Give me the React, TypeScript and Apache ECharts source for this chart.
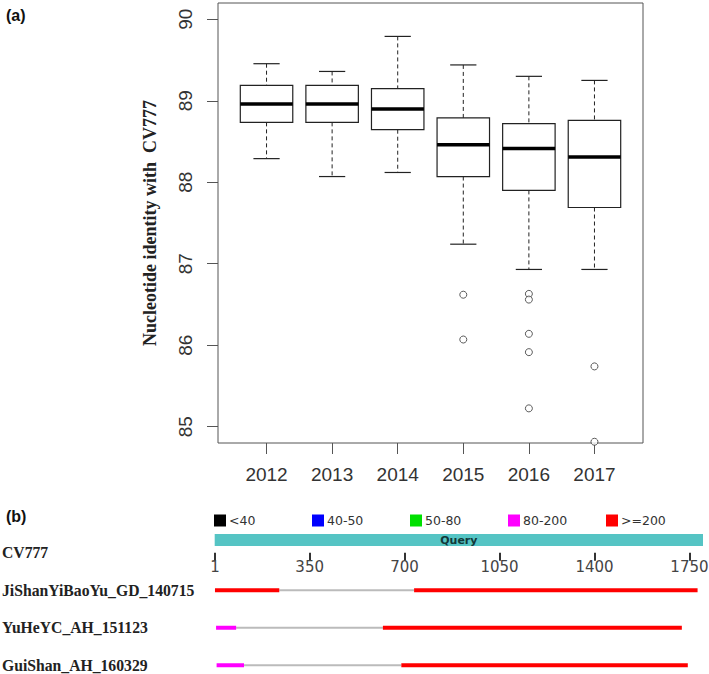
import React, { useEffect, useRef } from "react";
import * as echarts from "echarts";

// ---------- Panel (a): box plot data ----------
const YEARS = ["2012", "2013", "2014", "2015", "2016", "2017"];
const WHISKER_LOW = [88.29, 88.07, 88.12, 87.24, 86.93, 86.93];
const Q1 = [88.735, 88.735, 88.645, 88.07, 87.9, 87.69];
const MEDIAN = [88.96, 88.96, 88.9, 88.46, 88.415, 88.31];
const Q3 = [89.19, 89.19, 89.15, 88.79, 88.72, 88.76];
const WHISKER_HIGH = [89.455, 89.36, 89.79, 89.44, 89.3, 89.25];
const OUTLIER_YEAR = ["2015", "2015", "2016", "2016", "2016", "2016", "2016", "2017", "2017"];
const OUTLIER_VALUE = [86.62, 86.07, 86.63, 86.56, 86.14, 85.915, 85.225, 85.74, 84.815];
const Y_TICKS = [85, 86, 87, 88, 89, 90];

// ---------- Panel (b): alignment data ----------
const ROW_NAMES = ["CV777", "JiShanYiBaoYu_GD_140715", "YuHeYC_AH_151123", "GuiShan_AH_160329"];
const QUERY_LENGTH = 1800;
const RULER_TICKS = [1, 350, 700, 1050, 1400, 1750];
const SCORE_CLASSES = ["<40", "40-50", "50-80", "80-200", ">=200"];
const SCORE_COLORS = ["#000000", "#0000ff", "#00e000", "#ff00ff", "#ff0000"];
const SEG_ROW = [1, 1, 1, 2, 2, 2, 3, 3, 3];
const SEG_START = [1, 238, 735, 5, 79, 620, 7, 108, 688];
const SEG_END = [238, 735, 1780, 79, 620, 1722, 108, 688, 1744];
const SEG_CLASS = [">=200", "gap", ">=200", "80-200", "gap", ">=200", "80-200", "gap", ">=200"];

export default function App() {
  const ref = useRef<HTMLDivElement>(null);

  useEffect(() => {
    if (!ref.current) return;
    const chart = echarts.init(ref.current, null, { renderer: "svg" });

    const boxData = YEARS.map((_, i) => [i + 1, WHISKER_LOW[i], Q1[i], MEDIAN[i], Q3[i], WHISKER_HIGH[i]]);
    const outlierData = OUTLIER_YEAR.map((y, i) => [YEARS.indexOf(y) + 1, OUTLIER_VALUE[i]]);

    const segSeries = (cls: string, color: string, width: number, name?: string) => ({
      type: "custom",
      name: name,
      xAxisIndex: 1,
      yAxisIndex: 1,
      itemStyle: { color },
      encode: { x: [0, 1], y: 2 },
      data: SEG_CLASS.map((c, i) => (c === cls ? [SEG_START[i], SEG_END[i], SEG_ROW[i]] : null)).filter(
        (d) => d !== null
      ),
      renderItem: (params: any, api: any) => {
        const s = api.coord([api.value(0), api.value(2)]);
        const e = api.coord([api.value(1), api.value(2)]);
        return {
          type: "rect",
          shape: { x: s[0], y: s[1] - width / 2, width: e[0] - s[0], height: width },
          style: { fill: color },
        };
      },
    });

    const option: any = {
      animation: false,
      backgroundColor: "#ffffff",
      grid: [
        {
          left: 218,
          right: 66,
          top: 3,
          bottom: 231,
          show: true,
          borderColor: "#555",
          borderWidth: 1,
          containLabel: false,
          outerBoundsMode: "none",
        },
        { left: 214.7, right: 6, top: 534, height: 138.75, containLabel: false, outerBoundsMode: "none" },
      ],
      xAxis: [
        {
          type: "value",
          gridIndex: 0,
          min: 0.26,
          max: 6.74,
          axisLine: { show: false },
          splitLine: { show: false },
          axisTick: { show: true, length: 11, customValues: YEARS.map((_, i) => i + 1), lineStyle: { color: "#555" } },
          axisLabel: {
            customValues: YEARS.map((_, i) => i + 1),
            formatter: (v: number) => YEARS[Math.round(v) - 1],
            margin: 22,
            fontSize: 19,
            fontFamily: "Liberation Sans",
            color: "#333",
          },
        },
        {
          type: "value",
          gridIndex: 1,
          min: 0,
          max: QUERY_LENGTH,
          position: "top",
          offset: -13,
          axisLine: { show: false },
          splitLine: { show: false },
          axisTick: { show: true, inside: true, length: 8, customValues: RULER_TICKS, lineStyle: { color: "#333", width: 2 } },
          axisLabel: {
            inside: true,
            customValues: RULER_TICKS,
            formatter: (v: number) => String(v),
            margin: 12,
            fontSize: 15,
            fontFamily: "DejaVu Sans",
            color: "#444",
          },
        },
      ],
      yAxis: [
        {
          type: "value",
          gridIndex: 0,
          min: 84.8,
          max: 90.2,
          name: "Nucleotide identity with  CV777",
          nameLocation: "middle",
          nameGap: 59,
          nameTextStyle: { fontFamily: "Liberation Serif", fontWeight: "bold", fontSize: 18, color: "#222" },
          axisLine: { show: false },
          splitLine: { show: false },
          axisTick: { show: true, length: 11, customValues: Y_TICKS, lineStyle: { color: "#555" } },
          axisLabel: {
            customValues: Y_TICKS,
            rotate: 90,
            margin: 23,
            fontSize: 19,
            fontFamily: "Liberation Sans",
            color: "#333",
          },
        },
        {
          type: "value",
          gridIndex: 1,
          inverse: true,
          min: -0.5,
          max: 3.2,
          axisLine: { show: false },
          splitLine: { show: false },
          axisTick: { show: false },
          axisLabel: {
            customValues: [0, 1, 2, 3],
            formatter: (v: number) => ROW_NAMES[Math.round(v)],
            align: "left",
            margin: 212.7,
            fontFamily: "Liberation Serif",
            fontWeight: "bold",
            fontSize: 15.7,
            color: "#222",
          },
        },
      ],
      legend: SCORE_CLASSES.map((c, i) => ({
        data: [c],
        left: 214 + i * 98,
        top: 514,
        padding: 0,
        icon: "rect",
        itemWidth: 12,
        itemHeight: 12,
        itemGap: 5,
        selectedMode: false,
        textStyle: { fontFamily: "DejaVu Sans", fontSize: 12.5, color: "#333", padding: [0, 0, 0, -2] },
      })),
      graphic: [
        { type: "text", left: 6, top: 7, style: { text: "(a)", fontFamily: "Liberation Sans", fontWeight: "bold", fontSize: 16, fill: "#111" } },
        { type: "text", left: 6, top: 508, style: { text: "(b)", fontFamily: "Liberation Sans", fontWeight: "bold", fontSize: 16, fill: "#111" } },
      ],
      series: [
        {
          type: "custom",
          name: "box",
          xAxisIndex: 0,
          yAxisIndex: 0,
          encode: { x: 0, y: [1, 2, 3, 4, 5] },
          data: boxData,
          renderItem: (params: any, api: any) => {
            const x = api.value(0);
            const unit = api.size([1, 0])[0];
            const hb = unit * 0.4;
            const hc = unit * 0.2;
            const pLo = api.coord([x, api.value(1)]);
            const pQ1 = api.coord([x, api.value(2)]);
            const pMed = api.coord([x, api.value(3)]);
            const pQ3 = api.coord([x, api.value(4)]);
            const pHi = api.coord([x, api.value(5)]);
            const cx = pLo[0];
            const stroke = "#222";
            return {
              type: "group",
              children: [
                { type: "line", shape: { x1: cx, y1: pHi[1], x2: cx, y2: pQ3[1] }, style: { stroke, lineWidth: 1, lineDash: [4, 3] } },
                { type: "line", shape: { x1: cx, y1: pQ1[1], x2: cx, y2: pLo[1] }, style: { stroke, lineWidth: 1, lineDash: [4, 3] } },
                { type: "line", shape: { x1: cx - hc, y1: pHi[1], x2: cx + hc, y2: pHi[1] }, style: { stroke, lineWidth: 1.2 } },
                { type: "line", shape: { x1: cx - hc, y1: pLo[1], x2: cx + hc, y2: pLo[1] }, style: { stroke, lineWidth: 1.2 } },
                {
                  type: "rect",
                  shape: { x: cx - hb, y: pQ3[1], width: 2 * hb, height: pQ1[1] - pQ3[1] },
                  style: { fill: "#fff", stroke, lineWidth: 1.2 },
                },
                { type: "line", shape: { x1: cx - hb, y1: pMed[1], x2: cx + hb, y2: pMed[1] }, style: { stroke: "#000", lineWidth: 3.5 } },
              ],
            };
          },
        },
        {
          type: "scatter",
          name: "outliers",
          xAxisIndex: 0,
          yAxisIndex: 0,
          symbol: "circle",
          symbolSize: 7,
          itemStyle: { color: "#fff", borderColor: "#333", borderWidth: 1 },
          data: outlierData,
        },
        {
          type: "custom",
          name: "query",
          xAxisIndex: 1,
          yAxisIndex: 1,
          encode: { x: [0, 1], y: 2 },
          data: [[0, QUERY_LENGTH, -0.5]],
          renderItem: (params: any, api: any) => {
            const s = api.coord([api.value(0), api.value(2)]);
            const e = api.coord([api.value(1), api.value(2)]);
            return {
              type: "group",
              children: [
                { type: "rect", shape: { x: s[0], y: s[1], width: e[0] - s[0], height: 12 }, style: { fill: "#55c4c4" } },
                {
                  type: "text",
                  style: {
                    text: "Query",
                    x: (s[0] + e[0]) / 2,
                    y: s[1] + 6.5,
                    align: "center",
                    verticalAlign: "middle",
                    fontFamily: "DejaVu Sans",
                    fontWeight: "bold",
                    fontSize: 11,
                    fill: "#123838",
                  },
                },
              ],
            };
          },
        },
        segSeries("gap", "#bbbbbb", 2),
        ...SCORE_CLASSES.map((c, i) => segSeries(c, SCORE_COLORS[i], 4, c)),
      ],
    };

    chart.setOption(option);
    return () => chart.dispose();
  }, []);

  return <div ref={ref} style={{ position: "absolute", left: 0, top: 0, width: 709, height: 674 }} />;
}
